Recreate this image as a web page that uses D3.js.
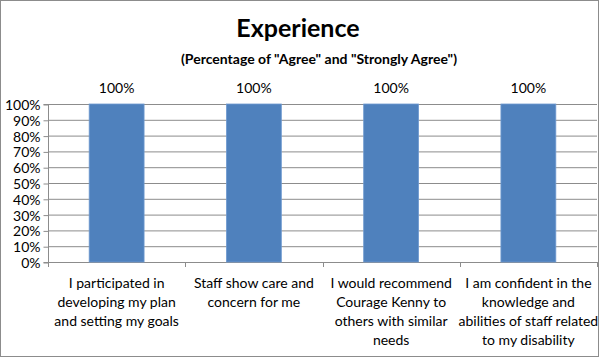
<!DOCTYPE html>
<html><head><meta charset="utf-8">
<script src="https://cdn.jsdelivr.net/npm/d3@7"></script>
<style>body{margin:0;background:#fff}svg{display:block}text{font-family:Lato,"Open Sans",sans-serif;fill:#000}</style>
</head><body><svg id="c" width="600" height="358"></svg>
<script>
const categories = [
  ["I participated in","developing my plan","and setting my goals"],
  ["Staff show care and","concern for me"],
  ["I would recommend","Courage Kenny to","others with similar","needs"],
  ["I am confident in the","knowledge and","abilities of staff related","to my disability"]
];
const values = [100, 100, 100, 100];
const yTicks = [0,10,20,30,40,50,60,70,80,90,100];

const svg = d3.select("#c");
const W = 600, H = 358;
const m = {left:48, right:3, top:104, bottom:96};
svg.append("rect").attr("x",0.5).attr("y",0.5).attr("width",W-2).attr("height",H-2)
  .attr("fill","#fff").attr("stroke","#8c8c8c");

const x = d3.scaleBand().domain(d3.range(categories.length)).range([m.left, W-m.right]).paddingInner(0.6).paddingOuter(0.3);
const xb = d3.scaleBand().domain(d3.range(categories.length)).range([m.left, W-m.right]);
const y = d3.scaleLinear().domain([0,100]).range([H-m.bottom, m.top]);

// gridlines
svg.append("g").selectAll("line").data(yTicks.filter(d=>d>0)).join("line")
  .attr("x1",m.left).attr("x2",W-m.right).attr("y1",d=>y(d)+0.5).attr("y2",d=>y(d)+0.5)
  .attr("stroke","#8c8c8c").attr("stroke-width",1);

// y axis
const ya = svg.append("g").attr("transform",`translate(${m.left+0.5},0)`)
  .call(d3.axisLeft(y).tickValues(yTicks).tickFormat(d=>d+"%").tickSize(5).tickPadding(3));
ya.select(".domain").attr("stroke","#8c8c8c").attr("d",`M-5,${y(100)+0.5}H0V${y(0)+0.5}H-5`);
ya.selectAll(".tick line").attr("stroke","#8c8c8c").attr("transform","translate(0,0.5)");
ya.selectAll(".tick text").attr("font-size",14).attr("font-family","Lato,sans-serif").attr("fill","#000").attr("dy","0.35em").attr("y",0.5);

// x axis baseline + ticks
svg.append("line").attr("x1",m.left).attr("x2",W-m.right).attr("y1",y(0)+0.5).attr("y2",y(0)+0.5).attr("stroke","#8c8c8c");
svg.append("g").selectAll("line").data(d3.range(categories.length+1)).join("line")
  .attr("x1",d=>Math.round(m.left + d*xb.bandwidth())+0.5).attr("x2",d=>Math.round(m.left + d*xb.bandwidth())+0.5)
  .attr("y1",y(0)).attr("y2",y(0)+5).attr("stroke","#8c8c8c");

// bars
svg.append("g").selectAll("rect").data(values).join("rect")
  .attr("x",(d,i)=>x(i)).attr("width",x.bandwidth())
  .attr("y",d=>y(d)).attr("height",d=>y(0)-y(d))
  .attr("fill","#4f81bd").attr("stroke","#6f9ad0").attr("stroke-width",0.8);

// value labels
svg.append("g").selectAll("text").data(values).join("text")
  .attr("x",(d,i)=>x(i)+x.bandwidth()/2).attr("y",d=>y(d)-11)
  .attr("text-anchor","middle").attr("font-size",14).text(d=>d+"%");

// category labels
const cl = svg.append("g").selectAll("text").data(categories).join("text")
  .attr("text-anchor","middle").attr("font-size",14)
  .attr("transform",(d,i)=>`translate(${xb(i)+xb.bandwidth()/2},288)`);
cl.selectAll("tspan").data(d=>d).join("tspan").attr("x",0).attr("dy",(d,i)=>i?19:0).text(d=>d);

// titles
svg.append("text").attr("x",298).attr("y",37).attr("text-anchor","middle")
  .attr("font-size",25).attr("font-weight","bold").text("Experience");
svg.append("text").attr("x",319).attr("y",64).attr("text-anchor","middle")
  .attr("font-size",14).attr("font-weight","bold").text('(Percentage of "Agree" and "Strongly Agree")');
</script></body></html>
